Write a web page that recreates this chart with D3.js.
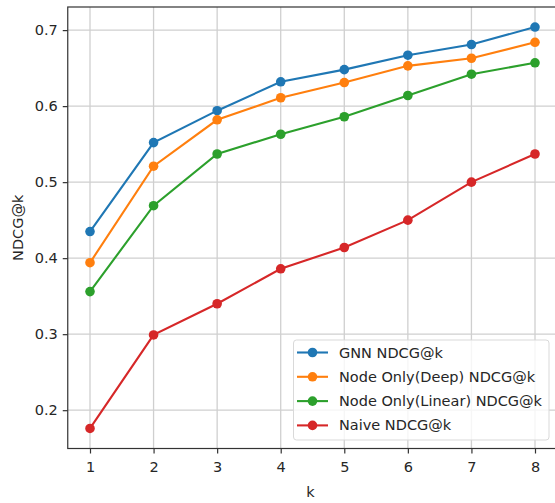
<!DOCTYPE html>
<html>
<head>
<meta charset="utf-8">
<script src="https://cdn.jsdelivr.net/npm/d3@7"></script>
<style>
  body{margin:0;background:#fff;}
  text{font-family:"DejaVu Sans",sans-serif;fill:#262626;}
</style>
</head>
<body>
<svg id="chart" width="555" height="503"></svg>
<script>
const ks = [1, 2, 3, 4, 5, 6, 7, 8];
const gnn = [0.435, 0.552, 0.594, 0.632, 0.648, 0.667, 0.681, 0.704];
const nodeDeep = [0.394, 0.521, 0.582, 0.611, 0.631, 0.653, 0.663, 0.684];
const nodeLinear = [0.356, 0.469, 0.537, 0.563, 0.586, 0.614, 0.642, 0.657];
const naive = [0.176, 0.299, 0.340, 0.386, 0.414, 0.450, 0.500, 0.537];
const yTicks = [0.2, 0.3, 0.4, 0.5, 0.6, 0.7];
const seriesNames = ["GNN NDCG@k", "Node Only(Deep) NDCG@k", "Node Only(Linear) NDCG@k", "Naive NDCG@k"];
const seriesColors = ["#1f77b4", "#ff7f0e", "#2ca02c", "#d62728"];

const series = [gnn, nodeDeep, nodeLinear, naive].map((v, i) => ({name: seriesNames[i], color: seriesColors[i], values: v}));

const svg = d3.select("#chart");
const plotL = 67.75, plotR = 557.25, plotT = 7, plotB = 448.5;
const fs = "14.5px";

// matplotlib style 5% margins
const x = d3.scaleLinear().domain([0.65, 8.35]).range([plotL, plotR]);
const yMin = 0.1496, yMax = 0.7304;
const y = d3.scaleLinear().domain([yMin, yMax]).range([plotB, plotT]);

// grid
svg.append("g").selectAll("line").data(ks).join("line")
  .attr("x1", d => x(d)).attr("x2", d => x(d)).attr("y1", plotT).attr("y2", plotB)
  .attr("stroke", "#cfcfcf").attr("stroke-width", 1.3);
svg.append("g").selectAll("line").data(yTicks).join("line")
  .attr("x1", plotL).attr("x2", plotR).attr("y1", d => y(d)).attr("y2", d => y(d))
  .attr("stroke", "#cfcfcf").attr("stroke-width", 1.3);

// axes
const xAxis = d3.axisBottom(x).tickValues(ks).tickSize(5).tickPadding(8).tickFormat(d3.format("d"));
const yAxis = d3.axisLeft(y).tickValues(yTicks).tickSize(5).tickPadding(5).tickFormat(d3.format(".1f"));
const gx = svg.append("g").attr("transform", `translate(0,${plotB})`).call(xAxis);
const gy = svg.append("g").attr("transform", `translate(${plotL},0)`).call(yAxis);
[gx, gy].forEach(g => {
  g.select(".domain").remove();
  g.selectAll(".tick line").attr("stroke", "#333").attr("stroke-width", 1.2);
  g.selectAll(".tick text").attr("fill", "#262626").style("font-size", fs).style("font-family", "DejaVu Sans");
});

// frame
svg.append("rect").attr("x", plotL).attr("y", plotT).attr("width", plotR - plotL).attr("height", plotB - plotT)
  .attr("fill", "none").attr("stroke", "#333").attr("stroke-width", 1.2);

// lines
const line = d3.line().x((d, i) => x(ks[i])).y(d => y(d));
const sg = svg.append("g").selectAll("g").data(series).join("g");
sg.append("path").attr("d", d => line(d.values)).attr("fill", "none")
  .attr("stroke", d => d.color).attr("stroke-width", 2.1);
sg.selectAll("circle").data(d => d.values.map((v, i) => ({v, k: ks[i], c: d.color}))).join("circle")
  .attr("cx", d => x(d.k)).attr("cy", d => y(d.v)).attr("r", 4.8).attr("fill", d => d.c);

// axis labels
svg.append("text").attr("x", (plotL + plotR) / 2 - 2).attr("y", 497).attr("text-anchor", "middle")
  .style("font-size", fs).text("k");
svg.append("text").attr("transform", `translate(23,${(plotT + plotB) / 2}) rotate(-90)`).attr("text-anchor", "middle")
  .style("font-size", fs).text("NDCG@k");

// legend
const lg = svg.append("g");
lg.append("rect").attr("x", 293.5).attr("y", 340).attr("width", 255.5).attr("height", 100).attr("rx", 3)
  .attr("fill", "#fff").attr("fill-opacity", 0.8).attr("stroke", "#d9d9d9").attr("stroke-width", 1);
const rows = lg.selectAll("g.row").data(series).join("g").attr("class", "row")
  .attr("transform", (d, i) => `translate(0,${352.5 + i * 24.3})`);
rows.append("line").attr("x1", 297).attr("x2", 328).attr("stroke", d => d.color).attr("stroke-width", 2.1);
rows.append("circle").attr("cx", 312.5).attr("r", 4.8).attr("fill", d => d.color);
rows.append("text").attr("x", 339).attr("dy", "0.35em").style("font-size", fs).text(d => d.name);
</script>
</body>
</html>
